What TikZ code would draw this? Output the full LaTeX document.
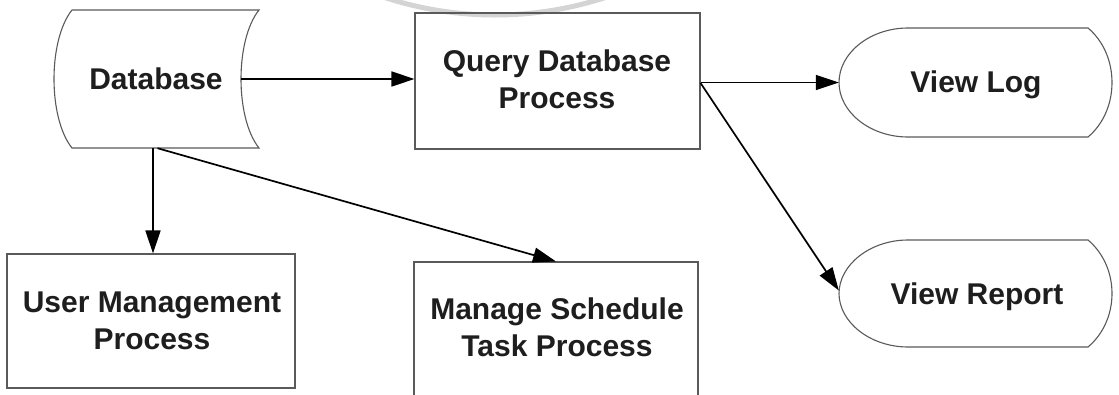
\documentclass[tikz,border=0pt]{standalone}
\usepackage{fontspec}
\setmainfont{Liberation Sans}
\usetikzlibrary{arrows.meta}
\definecolor{edgegray}{HTML}{5A5A5A}
\definecolor{inkdark}{HTML}{1E1E1E}
\definecolor{wmgray}{HTML}{D4D4D4}
\begin{document}
\begin{tikzpicture}[x=1pt,y=-1pt,
  shapeline/.style={draw=edgegray, line width=1.1pt},
  lbl/.style={font=\fontsize{30}{36.5}\selectfont\bfseries, text=inkdark, align=center, inner sep=0pt},
  boxnode/.style={shapeline, rectangle, inner sep=0pt},
  ghost/.style={rectangle, inner sep=0pt},
  flow/.style={draw=black, line width=1.7pt, -{Triangle[length=23pt,width=15pt]}},
]
\useasboundingbox (0,0) rectangle (1119,394);
\clip (0,0) rectangle (1119,394);
\fill[white] (0,0) rectangle (1119,394);

% watermark arc
\draw[wmgray, line width=5pt] (495,-339) circle (354pt);

% Database (stored data shape)
\node[ghost, minimum width=187pt, minimum height=138pt] (db) at (165.5,79) {};
\draw[shapeline] (72,10) -- (259,10) .. controls (235,40) and (235,118) .. (259,148)
  -- (72,148) .. controls (48,118) and (48,40) .. (72,10) -- cycle;
\node[lbl, anchor=base] (dbtxt) at (156,89.3) {Database};

% Query Database Process
\node[boxnode, minimum width=285pt, minimum height=136pt] (query) at (557.5,81) {};
\node[lbl] (querytxt) at (557,79.1) {Query Database\\Process};

% View Log (display shape)
\node[ghost, minimum width=276pt, minimum height=109pt] (vl) at (977,82.5) {};
\draw[shapeline] (908,28) -- (1088,28) .. controls (1120,55) and (1120,110) .. (1088,137)
  -- (908,137) .. controls (870,137) and (839,112) .. (839,82.5)
  .. controls (839,53) and (870,28) .. (908,28) -- cycle;
\node[lbl, anchor=base] (vltxt) at (976,92.7) {View Log};

% View Report (display shape)
\node[ghost, minimum width=276pt, minimum height=107pt] (vr) at (977,293.5) {};
\draw[shapeline] (908,240) -- (1088,240) .. controls (1120,267) and (1120,320) .. (1088,347)
  -- (908,347) .. controls (870,347) and (839,322) .. (839,293.5)
  .. controls (839,265) and (870,240) .. (908,240) -- cycle;
\node[lbl, anchor=base] (vrtxt) at (977,304) {View Report};

% User Management Process
\node[boxnode, minimum width=288pt, minimum height=134pt] (user) at (151,321) {};
\node[lbl] (usertxt) at (152,320.8) {User Management\\Process};

% Manage Schedule Task Process (cut off at bottom)
\node[boxnode, minimum width=284pt, minimum height=148pt] (manage) at (556,336) {};
\node[lbl] (managetxt) at (557,327.4) {Manage Schedule\\Task Process};

% connectors
\draw[flow] ([xshift=-18pt]db.east) -- (query.west |- db.east);
\draw[flow] ([xshift=2pt]user.north |- db.south) -- ([xshift=2pt]user.north);
\draw[flow] ([xshift=-8pt]db.south) -- (manage.north);
\draw[flow] (query.east |- vl.west) -- (vl.west);
\draw[flow] ([yshift=-2pt]query.east) -- ([yshift=3pt]vr.west);
\end{tikzpicture}
\end{document}
